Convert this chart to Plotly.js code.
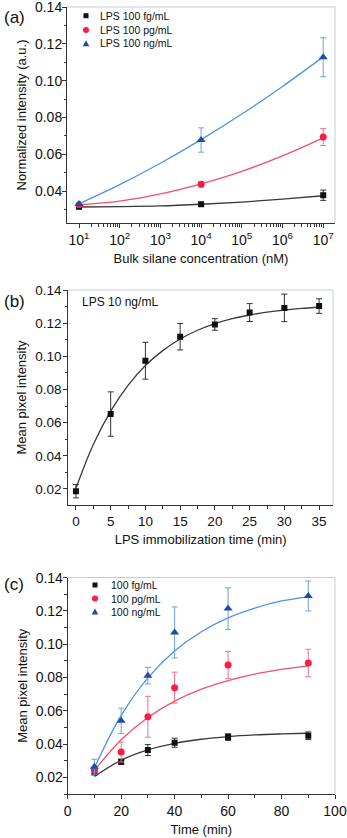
<!DOCTYPE html>
<html>
<head>
<meta charset="utf-8">
<script src="https://cdn.plot.ly/plotly-3.0.1.min.js"></script>
<style>
  body { margin: 0; background: #fff; }
  #chart { width: 347px; height: 838px; }
</style>
</head>
<body>
<div id="chart"></div>
<script>
// ---- panel (a): intensity vs bulk silane concentration ----
const silaneConc = [10, 1e4, 1e7];
const aFg = [0.0315, 0.0329, 0.0378];
const aFgErr = [0.0006, 0.0005, 0.0028];
const aPg = [0.0326, 0.0437, 0.0694];
const aPgErr = [0.0006, 0.0013, 0.0046];
const aNg = [0.0330, 0.0678, 0.1128];
const aNgErr = [0.0007, 0.0066, 0.0106];
// fitted curves
const aFitConc = [10, 100, 1e3, 1e4, 1e5, 1e6, 1e7];
const aFitFg = [0.0314, 0.0316, 0.0320, 0.0329, 0.0341, 0.0357, 0.0375];
const aFitPg = [0.0326, 0.0346, 0.0385, 0.0440, 0.0508, 0.0592, 0.0690];
const aFitNg = [0.0332, 0.0436, 0.0552, 0.0680, 0.0819, 0.0969, 0.1130];
const aTickVals = [10, 100, 1e3, 1e4, 1e5, 1e6, 1e7];
const aTickText = ['10<sup>1</sup>', '10<sup>2</sup>', '10<sup>3</sup>', '10<sup>4</sup>',
                   '10<sup>5</sup>', '10<sup>6</sup>', '10<sup>7</sup>'];
const aNames = ['LPS 100 fg/mL', 'LPS 100 pg/mL', 'LPS 100 ng/mL'];

// ---- panel (b): LPS 10 ng/mL vs immobilization time ----
const bTime = [0, 5, 10, 15, 20, 25, 30, 35];
const bVals = [0.0186, 0.0652, 0.0974, 0.1119, 0.1193, 0.1265, 0.1293, 0.1304];
const bErr = [0.0040, 0.0134, 0.0111, 0.0080, 0.0035, 0.0054, 0.0083, 0.0044];
const bFitTime = [0, 2.5, 5, 7.5, 10, 12.5, 15, 17.5, 20, 22.5, 25, 27.5, 30, 32.5, 35];
const bFit = [0.0204, 0.0468, 0.0670, 0.0825, 0.0945, 0.1035, 0.1105, 0.1158,
              0.1198, 0.1228, 0.1250, 0.1267, 0.1280, 0.1290, 0.1297];

// ---- panel (c): three concentrations vs time ----
const cTime = [10, 20, 30, 40, 60, 90];
const cFg = [0.0230, 0.0294, 0.0364, 0.0408, 0.0442, 0.0450];
const cFgErr = [0.0015, 0.0015, 0.0033, 0.0027, 0.0020, 0.0023];
const cPg = [0.0244, 0.0352, 0.0564, 0.0739, 0.0875, 0.0887];
const cPgErr = [0.0015, 0.0060, 0.0123, 0.0093, 0.0082, 0.0083];
const cNg = [0.0264, 0.0540, 0.0811, 0.1071, 0.1214, 0.1290];
const cNgErr = [0.0045, 0.0076, 0.0050, 0.0153, 0.0125, 0.0090];
const cFitTime = [10, 20, 30, 40, 50, 60, 70, 80, 90];
const cFitFg = [0.0205, 0.0303, 0.0365, 0.0404, 0.0429, 0.0445, 0.0455, 0.0461, 0.0465];
const cFitPg = [0.0242, 0.0426, 0.0560, 0.0658, 0.0730, 0.0782, 0.0821, 0.0849, 0.0870];
const cFitNg = [0.0258, 0.0572, 0.0798, 0.0959, 0.1075, 0.1158, 0.1217, 0.1260, 0.1285];
const cNames = ['100 fg/mL', '100 pg/mL', '100 ng/mL'];

const W = 347, H = 838;
const px = x => x / W;
const py = y => 1 - y / H;

const FONT = 'Liberation Sans, Arial, sans-serif';
const AX = '#333';
const BORDER = '#c3cfd6';

// black / red / blue styles
const styles = [
  { marker: '#111111', line: '#3a3a3a', err: '#333333', symbol: 'square', size: 6 },
  { marker: '#ff1a45', line: '#f2506a', err: '#f2708a', symbol: 'circle', size: 7 },
  { marker: '#1d4ea3', line: '#4d93e2', err: '#6aa2dc', symbol: 'triangle-up', size: 8 }
];

function points(x, y, err, s, xa, ya) {
  return {
    x: x, y: y, xaxis: xa, yaxis: ya, mode: 'markers', type: 'scatter',
    marker: { color: s.marker, symbol: s.symbol, size: s.size },
    error_y: { type: 'data', array: err, color: s.err, thickness: 1, width: 3 },
    showlegend: false, hoverinfo: 'skip'
  };
}
function curve(x, y, s, xa, ya) {
  return {
    x: x, y: y, xaxis: xa, yaxis: ya, mode: 'lines', type: 'scatter',
    line: { color: s.line, width: 1.3, shape: 'spline' },
    showlegend: false, hoverinfo: 'skip'
  };
}

const traces = [
  curve(aFitConc, aFitFg, styles[0], 'x', 'y'),
  curve(aFitConc, aFitPg, styles[1], 'x', 'y'),
  curve(aFitConc, aFitNg, styles[2], 'x', 'y'),
  points(silaneConc, aFg, aFgErr, styles[0], 'x', 'y'),
  points(silaneConc, aPg, aPgErr, styles[1], 'x', 'y'),
  points(silaneConc, aNg, aNgErr, styles[2], 'x', 'y'),

  curve(bFitTime, bFit, styles[0], 'x2', 'y2'),
  points(bTime, bVals, bErr, styles[0], 'x2', 'y2'),

  curve(cFitTime, cFitFg, styles[0], 'x3', 'y3'),
  curve(cFitTime, cFitPg, styles[1], 'x3', 'y3'),
  curve(cFitTime, cFitNg, styles[2], 'x3', 'y3'),
  points(cTime, cFg, cFgErr, styles[0], 'x3', 'y3'),
  points(cTime, cPg, cPgErr, styles[1], 'x3', 'y3'),
  points(cTime, cNg, cNgErr, styles[2], 'x3', 'y3')
];

function axisBase(extra) {
  return Object.assign({
    showline: true, linecolor: AX, linewidth: 1,
    ticks: 'outside', ticklen: 4, tickcolor: AX, tickwidth: 1,
    showgrid: false, zeroline: false, ticklabeloverflow: 'allow',
    tickfont: { family: FONT, size: 14, color: '#111' },
    title: { font: { family: FONT, size: 13, color: '#111' } }
  }, extra);
}
const titleFont = { family: FONT, size: 13, color: '#111' };

// log minor ticks for panel (a)
const aMinor = [];
for (let d = 1; d < 7; d++) for (let k = 2; k <= 9; k++) aMinor.push(k * Math.pow(10, d));

const layout = {
  width: W, height: H,
  margin: { l: 0, r: 0, t: 0, b: 0 },
  paper_bgcolor: '#fff', plot_bgcolor: '#fff',
  font: { family: FONT, color: '#111' },
  xaxis: axisBase({
    domain: [px(67), px(335)], anchor: 'y', type: 'log', range: [0.705, 7.29],
    tickmode: 'array', tickvals: aTickVals, ticktext: aTickText,
    minor: { tickmode: 'array', tickvals: aMinor, ticks: 'outside', ticklen: 2.5, tickcolor: AX },
    title: { text: 'Bulk silane concentration (nM)', standoff: 7, font: titleFont }
  }),
  yaxis: axisBase({
    domain: [py(223), py(7)], anchor: 'x', range: [0.0227, 0.1401],
    dtick: 0.02, tick0: 0, tickformat: '.2f', ticklabelstandoff: -3,
    minor: { dtick: 0.01, ticks: 'outside', ticklen: 2.5, tickcolor: AX },
    title: { text: 'Normalized intensity (a.u.)', standoff: 5, font: titleFont }
  }),
  xaxis2: axisBase({
    domain: [px(68.3), px(333)], anchor: 'y2', range: [-1.1, 37],
    dtick: 5, tick0: 0,
    minor: { dtick: 2.5, ticks: 'outside', ticklen: 2.5, tickcolor: AX },
    tickfont: { family: FONT, size: 13.5, color: '#111' },
    title: { text: 'LPS immobilization time (min)', standoff: 6, font: titleFont }
  }),
  yaxis2: axisBase({
    domain: [py(505), py(290)], anchor: 'x2', range: [0.0103, 0.1401],
    dtick: 0.02, tick0: 0, tickformat: '.2f', ticklabelstandoff: -1,
    minor: { dtick: 0.01, ticks: 'outside', ticklen: 2.5, tickcolor: AX },
    tickfont: { family: FONT, size: 13.5, color: '#111' },
    title: { text: 'Mean pixel intensity', standoff: 5, font: titleFont }
  }),
  xaxis3: axisBase({
    domain: [px(67.7), px(335)], anchor: 'y3', range: [0, 100],
    dtick: 20, tick0: 0,
    minor: { dtick: 10, ticks: 'outside', ticklen: 2.5, tickcolor: AX },
    title: { text: 'Time (min)', standoff: 7, font: titleFont }
  }),
  yaxis3: axisBase({
    domain: [py(794), py(577.5)], anchor: 'x3', range: [0.01, 0.1401],
    dtick: 0.02, tick0: 0, tickformat: '.2f', ticklabelstandoff: -3,
    minor: { dtick: 0.01, ticks: 'outside', ticklen: 2.5, tickcolor: AX },
    title: { text: 'Mean pixel intensity', standoff: 5, font: titleFont }
  }),
  shapes: [],
  annotations: []
};

// light top/right frame on each panel
[['x', 'y'], ['x2', 'y2'], ['x3', 'y3']].forEach(([xa, ya]) => {
  layout.shapes.push({ type: 'line', xref: xa + ' domain', yref: ya + ' domain',
    x0: 0, x1: 1, y0: 1, y1: 1, line: { color: BORDER, width: 1 } });
  layout.shapes.push({ type: 'line', xref: xa + ' domain', yref: ya + ' domain',
    x0: 1, x1: 1, y0: 0, y1: 1, line: { color: BORDER, width: 1 } });
});

// panel labels
[['(a)', 17], ['(b)', 301], ['(c)', 584]].forEach(([t, y]) => {
  layout.annotations.push({ text: t, xref: 'paper', yref: 'paper', x: px(2), y: py(y),
    xanchor: 'left', yanchor: 'middle', showarrow: false,
    font: { family: FONT, size: 17, color: '#111' } });
});

layout.annotations.push({ text: 'LPS 10 ng/mL', xref: 'paper', yref: 'paper',
  x: px(80), y: py(302), xanchor: 'left', yanchor: 'middle', showarrow: false,
  font: { family: FONT, size: 12, color: '#111' } });

// small legends drawn as keys + text
function legendKey(names, symX, textX, rowsY) {
  names.forEach((name, i) => {
    const s = styles[i], cx = symX, cy = rowsY[i];
    if (s.symbol === 'square') {
      layout.shapes.push({ type: 'rect', xref: 'paper', yref: 'paper',
        x0: px(cx - 2.5), x1: px(cx + 2.5), y0: py(cy + 2.5), y1: py(cy - 2.5),
        fillcolor: s.marker, line: { width: 0 } });
    } else if (s.symbol === 'circle') {
      layout.shapes.push({ type: 'circle', xref: 'paper', yref: 'paper',
        x0: px(cx - 3), x1: px(cx + 3), y0: py(cy + 3), y1: py(cy - 3),
        fillcolor: s.marker, line: { width: 0 } });
    } else {
      layout.shapes.push({ type: 'path', xref: 'paper', yref: 'paper',
        path: `M ${px(cx - 3.3)} ${py(cy + 2.8)} L ${px(cx + 3.3)} ${py(cy + 2.8)} L ${px(cx)} ${py(cy - 3.2)} Z`,
        fillcolor: s.marker, line: { width: 0 } });
    }
    layout.annotations.push({ text: name, xref: 'paper', yref: 'paper',
      x: px(textX), y: py(cy), xanchor: 'left', yanchor: 'middle', showarrow: false,
      font: { family: FONT, size: 10.5, color: '#111' } });
  });
}
legendKey(aNames, 86, 98, [15.7, 30, 43.5]);
legendKey(cNames, 95, 109, [585, 598.5, 611.7]);

Plotly.newPlot('chart', traces, layout, { displayModeBar: false, staticPlot: true });
</script>
</body>
</html>
